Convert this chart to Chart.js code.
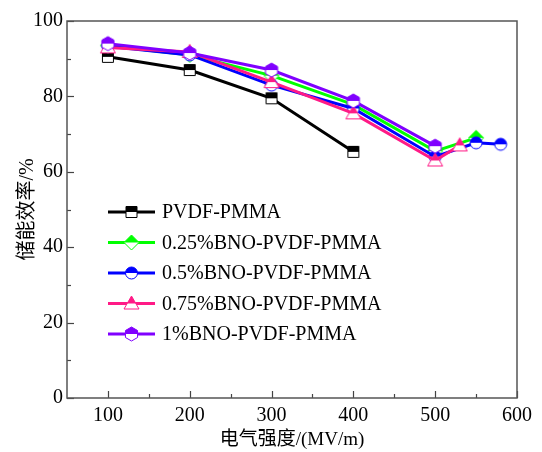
<!DOCTYPE html>
<html><head><meta charset="utf-8">
<script src="https://cdn.jsdelivr.net/npm/chart.js@4/dist/chart.umd.min.js"></script>
<style>html,body{margin:0;padding:0;background:#fff;}canvas{display:block;}</style>
</head><body>
<canvas id="c" width="542" height="452"></canvas>
<script>
// ---- data ----
const seriesNames = ['PVDF-PMMA', '0.25%BNO-PVDF-PMMA', '0.5%BNO-PVDF-PMMA', '0.75%BNO-PVDF-PMMA', '1%BNO-PVDF-PMMA'];
const fieldPVDF = [100, 200, 300, 400];
const effPVDF   = [90.5, 87.0, 79.5, 65.3];
const field025  = [100, 200, 300, 400, 500, 550];
const eff025    = [93.5, 91.0, 85.5, 77.8, 65.5, 69.0];
const field05   = [100, 200, 300, 400, 500, 550, 580];
const eff05     = [93.3, 91.0, 83.0, 76.8, 64.0, 67.7, 67.3];
const field075  = [100, 200, 300, 400, 500, 530];
const eff075    = [93.0, 91.8, 83.8, 75.5, 63.0, 67.0];
const field1    = [100, 200, 300, 400, 500];
const eff1      = [94.0, 91.5, 87.0, 78.8, 66.8];
const xTicks = [100, 200, 300, 400, 500, 600];
const xMinor = [150, 250, 350, 450, 550];
const yTicks = [0, 20, 40, 60, 80, 100];
const yMinor = [10, 30, 50, 70, 90];
const xTitle = '电气强度/(MV/m)';
const yTitle = '储能效率/%';

// ---- styles ----
const colors  = ['#000000', '#00ff00', '#0000ff', '#ff1a86', '#8000ff'];
const markers = ['square', 'diamond', 'circle', 'triangle', 'hexagon'];
const FONT = "'Liberation Serif', 'Times New Roman', 'Noto Sans CJK SC', serif";

function markerPath(ctx, type) {
  ctx.beginPath();
  if (type === 'square') { ctx.rect(-5.5, -5.5, 11, 11); }
  else if (type === 'diamond') { ctx.moveTo(0,-7.5); ctx.lineTo(7.5,0); ctx.lineTo(0,7.5); ctx.lineTo(-7.5,0); ctx.closePath(); }
  else if (type === 'circle') { ctx.arc(0, 0, 6, 0, Math.PI*2); }
  else if (type === 'triangle') { ctx.moveTo(0,-7.5); ctx.lineTo(7.5,5.5); ctx.lineTo(-7.5,5.5); ctx.closePath(); }
  else if (type === 'hexagon') {
    for (let k = 0; k < 6; k++) { const a = -Math.PI/2 + k*Math.PI/3; const px = 7*Math.cos(a), py = 7*Math.sin(a); k ? ctx.lineTo(px,py) : ctx.moveTo(px,py); }
    ctx.closePath();
  }
}
function drawMarker(ctx, type, color, cx, cy) {
  ctx.save();
  ctx.translate(cx, cy);
  markerPath(ctx, type);
  ctx.fillStyle = '#fff'; ctx.fill();
  ctx.save(); ctx.clip();
  ctx.fillStyle = color; ctx.fillRect(-10, -10, 20, 10);
  ctx.restore();
  markerPath(ctx, type);
  ctx.lineWidth = 1; ctx.strokeStyle = color; ctx.stroke();
  ctx.restore();
}
function markerImage(type, color) {
  const cv = document.createElement('canvas');
  cv.width = 20; cv.height = 20;
  drawMarker(cv.getContext('2d'), type, color, 10, 10);
  return cv;
}

const fields = [fieldPVDF, field025, field05, field075, field1];
const effs = [effPVDF, eff025, eff05, eff075, eff1];
const datasets = seriesNames.map((name, i) => ({
  label: name,
  data: fields[i].map((x, j) => ({ x: x, y: effs[i][j] })),
  borderColor: colors[i],
  backgroundColor: colors[i],
  borderWidth: 3,
  pointStyle: markerImage(markers[i], colors[i]),
  pointRadius: 6,
  tension: 0,
  order: 4 - i
}));

const framePlugin = {
  id: 'frame',
  beforeDatasetsDraw(chart) {
    const { ctx, chartArea: a, scales } = chart;
    ctx.save();
    ctx.strokeStyle = '#444'; ctx.lineWidth = 1.2;
    const tick = (vals, len) => {
      vals.forEach(v => {
        const px = Math.round(scales.x.getPixelForValue(v)) + 0.5;
        ctx.beginPath(); ctx.moveTo(px, a.bottom); ctx.lineTo(px, a.bottom - len); ctx.stroke();
      });
    };
    const ytick = (vals, len) => {
      vals.forEach(v => {
        const py = Math.round(scales.y.getPixelForValue(v)) + 0.5;
        ctx.beginPath(); ctx.moveTo(a.left, py); ctx.lineTo(a.left + len, py); ctx.stroke();
      });
    };
    tick(xTicks, 7); tick(xMinor, 4);
    ytick(yTicks, 7); ytick(yMinor, 4);
    ctx.lineWidth = 1.5; ctx.strokeStyle = '#555';
    ctx.strokeRect(a.left, a.top, a.right - a.left, a.bottom - a.top);
    ctx.restore();
  },
  afterDraw(chart) {
    const { ctx, chartArea: a } = chart;
    ctx.save();
    ctx.font = '20px ' + FONT;
    ctx.textBaseline = 'middle';
    ctx.fillStyle = '#000';
    chart.data.datasets.forEach((ds, i) => {
      const y = a.top + 191 + i * 30.5;
      const x0 = a.left + 41;
      ctx.strokeStyle = colors[i]; ctx.lineWidth = 3;
      ctx.beginPath(); ctx.moveTo(x0, y); ctx.lineTo(x0 + 47, y); ctx.stroke();
      drawMarker(ctx, markers[i], colors[i], x0 + 23.5, y);
      ctx.fillText(ds.label, x0 + 54, y + 1);
    });
    ctx.restore();
  }
};

new Chart(document.getElementById('c'), {
  type: 'line',
  data: { datasets },
  options: {
    responsive: false,
    animation: false,
    devicePixelRatio: 1,
    layout: { padding: { left: 0, right: 25, top: 21, bottom: 0 } },
    plugins: { legend: { display: false }, tooltip: { enabled: false } },
    scales: {
      x: {
        type: 'linear', min: 50, max: 600,
        afterBuildTicks: s => { s.ticks = xTicks.map(v => ({ value: v })); },
        afterFit: s => { s.height = 54; },
        grid: { display: false, drawTicks: false },
        border: { display: false },
        ticks: { color: '#000', padding: 6, maxRotation: 0, font: { family: FONT, size: 20 } },
        title: { display: true, text: xTitle, color: '#000', padding: { top: 0, bottom: 1 }, font: { family: FONT, size: 19 } }
      },
      y: {
        type: 'linear', min: 0, max: 100,
        afterBuildTicks: s => { s.ticks = yTicks.map(v => ({ value: v })); },
        afterFit: s => { s.width = 67; },
        grid: { display: false, drawTicks: false },
        border: { display: false },
        ticks: { color: '#000', padding: 4, font: { family: FONT, size: 20 } },
        title: { display: true, text: yTitle, color: '#000', padding: { top: 16, bottom: 0 }, font: { family: FONT, size: 20 } }
      }
    }
  },
  plugins: [framePlugin]
});
</script>
</body></html>
